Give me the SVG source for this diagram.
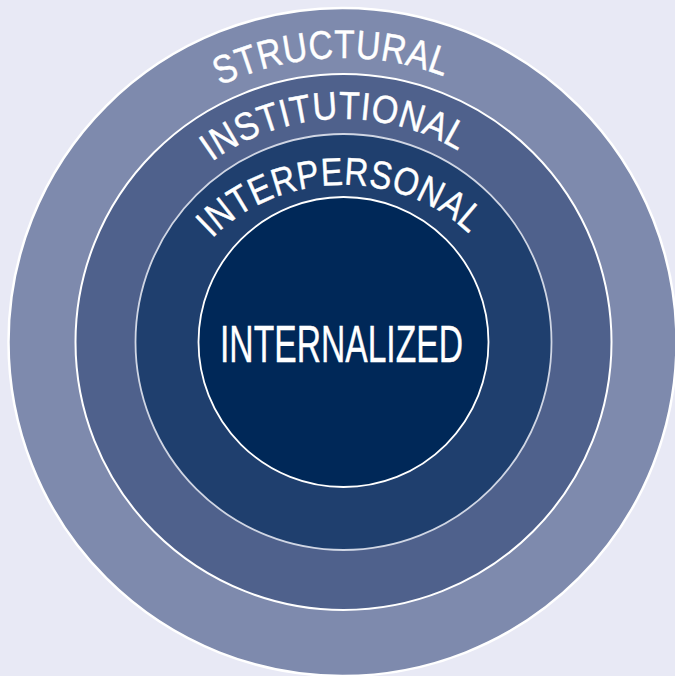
<svg xmlns="http://www.w3.org/2000/svg" xmlns:xlink="http://www.w3.org/1999/xlink" width="675" height="676" viewBox="0 0 675 676">
  <style>
    .lbl { font-family: "Liberation Sans", Arial, sans-serif; fill: #ffffff; stroke: #ffffff; stroke-width: 0.4px; }
    .arc { letter-spacing: 0.5px; }
  </style>
  <defs>
    <path id="pStructural" d="M 59 342 A 284 284 0 0 1 627 342"/>
    <path id="pInstitutional" d="M 120 342 A 223 223 0 0 1 566 342"/>
    <path id="pInterpersonal" d="M 169 342 A 174 157 0 0 1 517 342"/>
  </defs>
  <rect x="0" y="0" width="675" height="676" fill="#e8e9f5"/>
  <g id="structural">
    <circle cx="342.5" cy="342" r="334" fill="#7e8aad" stroke="#ffffff" stroke-width="2.5"/>
    <text class="lbl arc" style="font-size:40px"><textPath xlink:href="#pStructural" href="#pStructural" startOffset="318.7" textLength="231" lengthAdjust="spacingAndGlyphs">STRUCTURAL</textPath></text>
  </g>
  <g id="institutional">
    <circle cx="343.5" cy="342" r="268" fill="#4f618c" stroke="#ffffff" stroke-width="2"/>
    <text class="lbl arc" style="font-size:39px"><textPath xlink:href="#pInstitutional" href="#pInstitutional" startOffset="209.8" textLength="262" lengthAdjust="spacingAndGlyphs">INSTITUTIONAL</textPath></text>
  </g>
  <g id="interpersonal">
    <circle cx="343.5" cy="342" r="208" fill="#1f3f6e" stroke="#d0d6e4" stroke-width="1.8"/>
    <text class="lbl arc" style="font-size:39px"><textPath xlink:href="#pInterpersonal" href="#pInterpersonal" startOffset="114.9" textLength="284" lengthAdjust="spacingAndGlyphs">INTERPERSONAL</textPath></text>
  </g>
  <g id="internalized">
    <circle cx="343.5" cy="342" r="145" fill="#002858" stroke="#ffffff" stroke-width="1.8"/>
    <text class="lbl" x="220" y="362" font-size="52" textLength="243" lengthAdjust="spacingAndGlyphs">INTERNALIZED</text>
  </g>
  <g id="connectors"/>
</svg>
